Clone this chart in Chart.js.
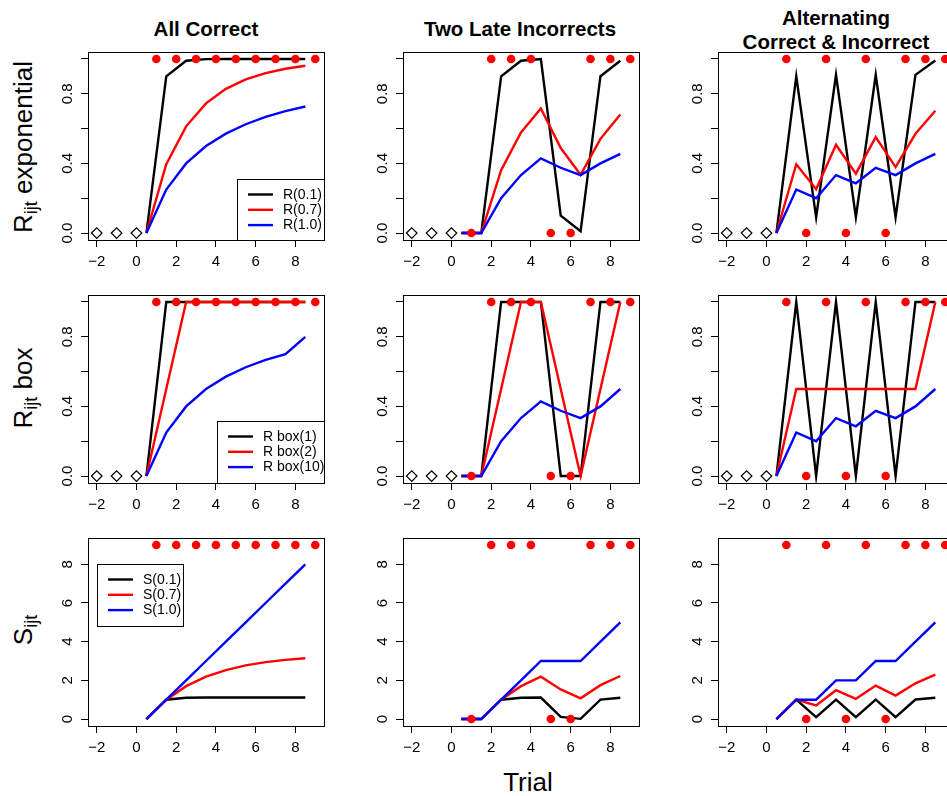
<!DOCTYPE html>
<html><head><meta charset="utf-8">
<script src="https://cdn.jsdelivr.net/npm/chart.js@4.4.0/dist/chart.umd.min.js"></script>
<style>
html,body{margin:0;padding:0;background:#fff;width:947px;height:796px;overflow:hidden;}
body{position:relative;font-family:"Liberation Sans",Arial,Helvetica,sans-serif;color:#000;}
canvas{position:absolute;}
.title{position:absolute;font-weight:bold;font-size:20.5px;line-height:24px;text-align:center;width:320px;white-space:nowrap;}
.rowlab{position:absolute;font-size:26px;line-height:26px;white-space:nowrap;transform:translate(-50%,-50%) rotate(-90deg);}
.rowlab sub{font-size:18px;line-height:0;vertical-align:-5px;}
.xlab{position:absolute;font-size:26px;line-height:26px;white-space:nowrap;transform:translateX(-50%);}
</style></head><body>
<div class="title" style="left:46px;top:17px">All Correct</div>
<div class="title" style="left:360px;top:17px">Two Late Incorrects</div>
<div class="title" style="left:676px;top:6px">Alternating<br>Correct &amp; Incorrect</div>
<div class="rowlab" style="left:23px;top:147px">R<sub>ijt</sub> exponential</div>
<div class="rowlab" style="left:23px;top:388px">R<sub>ijt</sub> box</div>
<div class="rowlab" style="left:23px;top:630px">S<sub>ijt</sub></div>
<div class="xlab" style="left:528px;top:769px">Trial</div>
<script>
// ---------- data ----------
const trials = [0.5, 1.5, 2.5, 3.5, 4.5, 5.5, 6.5, 7.5, 8.5];
const priorTrials = [-2, -1, 0];
const priorValues = [0, 0, 0];
const outcomeTrials = [1, 2, 3, 4, 5, 6, 7, 8, 9];

// outcome markers (correct at top, incorrect at 0)
const dotsR_all = [1, 1, 1, 1, 1, 1, 1, 1, 1];
const dotsR_two = [0, 1, 1, 1, 0, 0, 1, 1, 1];
const dotsR_alt = [1, 0, 1, 0, 1, 0, 1, 1, 1];
const dotsS_all = [9, 9, 9, 9, 9, 9, 9, 9, 9];
const dotsS_two = [0, 9, 9, 9, 0, 0, 9, 9, 9];
const dotsS_alt = [9, 0, 9, 0, 9, 0, 9, 9, 9];

// row 1: R exponential
const expAll_01 = [0, 0.9, 0.99, 0.999, 1, 1, 1, 1, 1];
const expAll_07 = [0, 0.395, 0.613, 0.745, 0.828, 0.883, 0.919, 0.944, 0.961];
const expAll_10 = [0, 0.25, 0.4, 0.5, 0.571, 0.625, 0.667, 0.7, 0.727];
const expTwo_01 = [0, 0, 0.9, 0.99, 0.999, 0.1, 0.01, 0.901, 0.99];
const expTwo_07 = [0, 0, 0.361, 0.578, 0.716, 0.488, 0.335, 0.541, 0.681];
const expTwo_10 = [0, 0, 0.2, 0.333, 0.429, 0.375, 0.333, 0.4, 0.455];
const expAlt_01 = [0, 0.9, 0.09, 0.909, 0.091, 0.909, 0.091, 0.909, 0.991];
const expAlt_07 = [0, 0.395, 0.252, 0.507, 0.341, 0.551, 0.379, 0.570, 0.702];
const expAlt_10 = [0, 0.25, 0.2, 0.333, 0.286, 0.375, 0.333, 0.4, 0.455];

// row 2: R box
const boxAll_1 = [0, 1, 1, 1, 1, 1, 1, 1, 1];
const boxAll_2 = [0, 0.5, 1, 1, 1, 1, 1, 1, 1];
const boxAll_10 = [0, 0.25, 0.4, 0.5, 0.571, 0.625, 0.667, 0.7, 0.8];
const boxTwo_1 = [0, 0, 1, 1, 1, 0, 0, 1, 1];
const boxTwo_2 = [0, 0, 0.5, 1, 1, 0.5, 0, 0.5, 1];
const boxTwo_10 = [0, 0, 0.2, 0.333, 0.429, 0.375, 0.333, 0.4, 0.5];
const boxAlt_1 = [0, 1, 0, 1, 0, 1, 0, 1, 1];
const boxAlt_2 = [0, 0.5, 0.5, 0.5, 0.5, 0.5, 0.5, 0.5, 1];
const boxAlt_10 = [0, 0.25, 0.2, 0.333, 0.286, 0.375, 0.333, 0.4, 0.5];

// row 3: S
const sAll_01 = [0, 1, 1.1, 1.11, 1.111, 1.111, 1.111, 1.111, 1.111];
const sAll_07 = [0, 1, 1.7, 2.19, 2.533, 2.773, 2.941, 3.059, 3.141];
const sAll_10 = [0, 1, 2, 3, 4, 5, 6, 7, 8];
const sTwo_01 = [0, 0, 1, 1.1, 1.11, 0.111, 0.011, 1.001, 1.1];
const sTwo_07 = [0, 0, 1, 1.7, 2.19, 1.533, 1.073, 1.751, 2.226];
const sTwo_10 = [0, 0, 1, 2, 3, 3, 3, 4, 5];
const sAlt_01 = [0, 1, 0.1, 1.01, 0.101, 1.01, 0.101, 1.01, 1.101];
const sAlt_07 = [0, 1, 0.7, 1.49, 1.043, 1.73, 1.211, 1.848, 2.293];
const sAlt_10 = [0, 1, 1, 2, 2, 3, 3, 4, 5];

// series names
const namesExp = ['R(0.1)', 'R(0.7)', 'R(1.0)'];
const namesBox = ['R box(1)', 'R box(2)', 'R box(10)'];
const namesS = ['S(0.1)', 'S(0.7)', 'S(1.0)'];

// tick labels
const xTicks = [-2, 0, 2, 4, 6, 8];
const yTicksR = [0, 0.2, 0.4, 0.6, 0.8, 1.0];
const yLabelsR = ['0.0', '0.4', '0.8'];
const yLabelValuesR = [0, 0.4, 0.8];
const yTicksS = [0, 2, 4, 6, 8];
const yLabelsS = ['0', '2', '4', '6', '8'];
const yLabelValuesS = [0, 2, 4, 6, 8];

// axis ranges
const xRange = [-2.44, 9.44];
const yRangeR = [-0.04, 1.04];
const yRangeS = [-0.36, 9.36];

// ---------- styling / layout ----------
const seriesColors = ['#000000', '#ff0000', '#0000ff'];
const FONT = '"Liberation Sans", Arial, Helvetica, sans-serif';
Chart.defaults.font.family = FONT;
Chart.defaults.color = '#000';

const colLeft = [18, 333, 648];
const rowTop = [42, 285, 528];
const CW = 318, CH = 238, YAXW = 70, XAXH = 40, PADT = 10, PADR = 12;
const LINE_W = 2.4;

const rows = [
  { names: namesExp, yRange: yRangeR, yTicks: yTicksR, yLab: yLabelsR, yLabV: yLabelValuesR, prior: true,
    legend: { anchor: 'bottomright', width: 87, height: 61 } },
  { names: namesBox, yRange: yRangeR, yTicks: yTicksR, yLab: yLabelsR, yLabV: yLabelValuesR, prior: true,
    legend: { anchor: 'bottomright', width: 107, height: 62 } },
  { names: namesS, yRange: yRangeS, yTicks: yTicksS, yLab: yLabelsS, yLabV: yLabelValuesS, prior: false,
    legend: { anchor: 'data', x: -2, y: 8, width: 86, height: 62 } }
];
const panelSeries = [
  [[expAll_01, expAll_07, expAll_10], [expTwo_01, expTwo_07, expTwo_10], [expAlt_01, expAlt_07, expAlt_10]],
  [[boxAll_1, boxAll_2, boxAll_10], [boxTwo_1, boxTwo_2, boxTwo_10], [boxAlt_1, boxAlt_2, boxAlt_10]],
  [[sAll_01, sAll_07, sAll_10], [sTwo_01, sTwo_07, sTwo_10], [sAlt_01, sAlt_07, sAlt_10]]
];
const panelDots = [
  [dotsR_all, dotsR_two, dotsR_alt],
  [dotsR_all, dotsR_two, dotsR_alt],
  [dotsS_all, dotsS_two, dotsS_alt]
];

const rPlot = {
  id: 'rPlot',
  afterDraw(chart, args, opts) {
    const ctx = chart.ctx, a = chart.chartArea, ys = chart.scales.y, xs = chart.scales.x;
    ctx.save();
    // box
    ctx.strokeStyle = '#000'; ctx.lineWidth = 1;
    ctx.strokeRect(Math.round(a.left) + 0.5, Math.round(a.top) + 0.5, Math.round(a.right - a.left), Math.round(a.bottom - a.top));
    // rotated y tick labels
    ctx.fillStyle = '#000';
    ctx.font = '15px ' + FONT;
    ctx.textAlign = 'center'; ctx.textBaseline = 'alphabetic';
    opts.yLabV.forEach((v, i) => {
      const py = ys.getPixelForValue(v);
      ctx.save(); ctx.translate(a.left - 16.5, py); ctx.rotate(-Math.PI / 2);
      ctx.fillText(opts.yLab[i], 0, 0); ctx.restore();
    });
    // legend
    if (opts.legend && opts.showLegend) {
      const L = opts.legend;
      let lx, ly;
      if (L.anchor === 'bottomright') { lx = a.right - L.width; ly = a.bottom - L.height; }
      else { lx = xs.getPixelForValue(L.x); ly = ys.getPixelForValue(L.y); }
      lx = Math.round(lx); ly = Math.round(ly);
      ctx.fillStyle = '#fff'; ctx.fillRect(lx, ly, L.width, L.height);
      ctx.strokeStyle = '#000'; ctx.lineWidth = 1;
      ctx.strokeRect(lx + 0.5, ly + 0.5, L.width, L.height);
      const items = chart.data.datasets.filter(d => d.showLine);
      ctx.font = '14px ' + FONT; ctx.textAlign = 'left'; ctx.textBaseline = 'middle';
      items.forEach((d, i) => {
        const yy = ly + 15.5 + i * 15.3;
        ctx.strokeStyle = d.borderColor; ctx.lineWidth = LINE_W;
        ctx.beginPath(); ctx.moveTo(lx + 11, yy); ctx.lineTo(lx + 36, yy); ctx.stroke();
        ctx.fillStyle = '#000'; ctx.fillText(d.label, lx + 46, yy + 0.5);
      });
    }
    ctx.restore();
  }
};

function pts(xsArr, ysArr) { return xsArr.map((x, i) => ({ x: x, y: ysArr[i] })); }

for (let r = 0; r < 3; r++) {
  for (let c = 0; c < 3; c++) {
    const R = rows[r];
    const cv = document.createElement('canvas');
    cv.width = CW; cv.height = CH;
    cv.style.left = colLeft[c] + 'px'; cv.style.top = rowTop[r] + 'px';
    cv.style.width = CW + 'px'; cv.style.height = CH + 'px';
    document.body.appendChild(cv);

    const datasets = [];
    panelSeries[r][c].forEach((s, k) => {
      datasets.push({ label: R.names[k], data: pts(trials, s), showLine: true, borderColor: seriesColors[k],
        backgroundColor: seriesColors[k], borderWidth: LINE_W, pointRadius: 0, tension: 0, order: 3 - k });
    });
    datasets.push({ label: 'outcome', data: pts(outcomeTrials, panelDots[r][c]), showLine: false,
      pointStyle: 'circle', pointRadius: 4.3, backgroundColor: '#ff0000', borderColor: '#ff0000', borderWidth: 0, order: 0 });
    if (R.prior) {
      datasets.push({ label: 'prior', data: pts(priorTrials, priorValues), showLine: false,
        pointStyle: 'rectRot', pointRadius: 5.3, backgroundColor: '#ffffff', borderColor: '#000000', borderWidth: 1.2, order: 0 });
    }

    new Chart(cv, {
      type: 'scatter',
      data: { datasets },
      options: {
        responsive: false, animation: false, devicePixelRatio: 1,
        layout: { padding: { left: 0, top: PADT, right: PADR, bottom: 0 } },
        plugins: { legend: { display: false }, tooltip: { enabled: false },
          rPlot: { yLab: R.yLab, yLabV: R.yLabV, legend: R.legend, showLegend: c === 0 } },
        scales: {
          x: {
            type: 'linear', min: xRange[0], max: xRange[1],
            afterBuildTicks: s => { s.ticks = xTicks.map(v => ({ value: v })); },
            afterFit: s => { s.height = XAXH; },
            grid: { drawOnChartArea: false, drawTicks: true, tickLength: 7, tickColor: '#000', tickWidth: 1 },
            border: { display: false },
            ticks: { autoSkip: false, maxRotation: 0, minRotation: 0, padding: 6, color: '#000',
              font: { size: 15, family: FONT },
              callback: v => (v < 0 ? '\u2212' + Math.abs(v) : String(v)) }
          },
          y: {
            type: 'linear', min: R.yRange[0], max: R.yRange[1],
            afterBuildTicks: s => { s.ticks = R.yTicks.map(v => ({ value: v })); },
            afterFit: s => { s.width = YAXW; },
            grid: { drawOnChartArea: false, drawTicks: true, tickLength: 7, tickColor: '#000', tickWidth: 1 },
            border: { display: false },
            ticks: { display: false }
          }
        }
      },
      plugins: [rPlot]
    });
  }
}
</script>
</body></html>
